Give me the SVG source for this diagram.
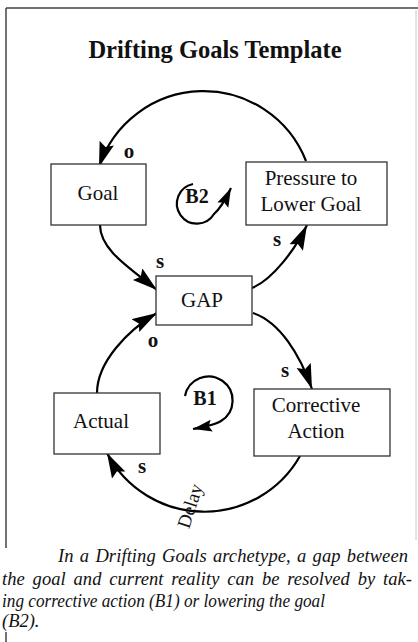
<svg xmlns="http://www.w3.org/2000/svg" width="418" height="642" viewBox="0 0 418 642">
<style>
.frame{stroke:#444;stroke-width:1.5;fill:none}
.faint{stroke:#c8c8c8;stroke-width:1;fill:none}
.box{fill:#fff;stroke:#333;stroke-width:1.3}
.lbl{font-family:"Liberation Serif","Times New Roman",serif;font-size:21px;fill:#111;text-anchor:middle}
.pol{font-family:"Liberation Serif","Times New Roman",serif;font-size:21px;font-weight:bold;fill:#111;text-anchor:middle}
.link{fill:none;stroke:#000;stroke-width:2.2}
.cap{font-family:"Liberation Serif","Times New Roman",serif;font-size:18.5px;font-style:italic;fill:#111}
</style>
<defs>
<marker id="ah" markerUnits="userSpaceOnUse" markerWidth="26" markerHeight="16" refX="25" refY="7.5" orient="auto">
<path d="M0,0 L25,7.5 L0,15 L4,7.5 z" fill="#000"/>
</marker>
<marker id="ahs" markerUnits="userSpaceOnUse" markerWidth="20" markerHeight="14" refX="19" refY="6" orient="auto">
<path d="M0,0 L19,6 L0,12 L3,6 z" fill="#000"/>
</marker>
</defs>
<rect width="418" height="642" fill="#fff"/>
<g id="frame">
<path class="frame" d="M6,8 H418 M6,8 V548 M6,632 V642"/>
<path class="faint" d="M416,10 V540"/>
</g>
<text x="215" y="58" style="font-family:'Liberation Serif','Times New Roman',serif;font-size:24.5px;font-weight:bold;fill:#111;text-anchor:middle">Drifting Goals Template</text>
<g id="connectors">
<path class="link" d="M306,161 A110,110 0 0 0 99,167" marker-end="url(#ah)"/>
<path class="link" d="M100,225 C100,250 130,268 157,290" marker-end="url(#ah)"/>
<path class="link" d="M252,288 C272,280 295,250 307,225" marker-end="url(#ah)"/>
<path class="link" d="M97,393 C97,362 128,330 157,313" marker-end="url(#ah)"/>
<path class="link" d="M253,313 C280,322 300,355 312,389" marker-end="url(#ah)"/>
<path class="link" d="M300,456 A110,110 0 0 1 107,453" marker-end="url(#ah)"/>
<text class="pol" x="129" y="158">o</text>
<text class="pol" x="160" y="268">s</text>
<text class="pol" x="277" y="246">s</text>
<text class="pol" x="153" y="347">o</text>
<text class="pol" x="285" y="377">s</text>
<text class="pol" x="142" y="473">s</text>
<text class="lbl" transform="translate(196,508) rotate(-72)" style="font-size:19px">Delay</text>
</g>
<g id="loopB2">
<path class="link" d="M193,184 A20,20 0 1 0 214,214 Q222,207 231,188" marker-end="url(#ahs)"/>
<text class="pol" x="197" y="203" style="font-size:20px">B2</text>
</g>
<g id="loopB1">
<path class="link" d="M185,396 A24,24 0 1 1 221,421 Q215,425 193,429" marker-end="url(#ahs)"/>
<text class="pol" x="205" y="405" style="font-size:20px">B1</text>
</g>
<g id="goal">
<rect class="box" x="51" y="164" width="95" height="61"/>
<text class="lbl" x="98" y="200">Goal</text>
</g>
<g id="pressure">
<rect class="box" x="246" y="162" width="141" height="63"/>
<text class="lbl" x="311" y="185">Pressure to</text>
<text class="lbl" x="311" y="211">Lower Goal</text>
</g>
<g id="gap">
<rect class="box" x="156" y="276" width="96" height="49"/>
<text class="lbl" x="202" y="307">GAP</text>
</g>
<g id="actual">
<rect class="box" x="54" y="393" width="106" height="61"/>
<text class="lbl" x="101" y="428">Actual</text>
</g>
<g id="corrective">
<rect class="box" x="254" y="389" width="136" height="67"/>
<text class="lbl" x="316" y="412">Corrective</text>
<text class="lbl" x="316" y="438">Action</text>
</g>
<g id="caption">
<text class="cap" x="58" y="562" word-spacing="1.5" textLength="350" lengthAdjust="spacing">In a Drifting Goals archetype, a gap between</text>
<text class="cap" x="2" y="584.5" word-spacing="3" textLength="410" lengthAdjust="spacing">the goal and current reality can be resolved by tak-</text>
<text class="cap" x="2" y="606.5" textLength="323" lengthAdjust="spacingAndGlyphs">ing corrective action (B1) or lowering the goal</text>
<text class="cap" x="2" y="627">(B2).</text>
</g>
</svg>
